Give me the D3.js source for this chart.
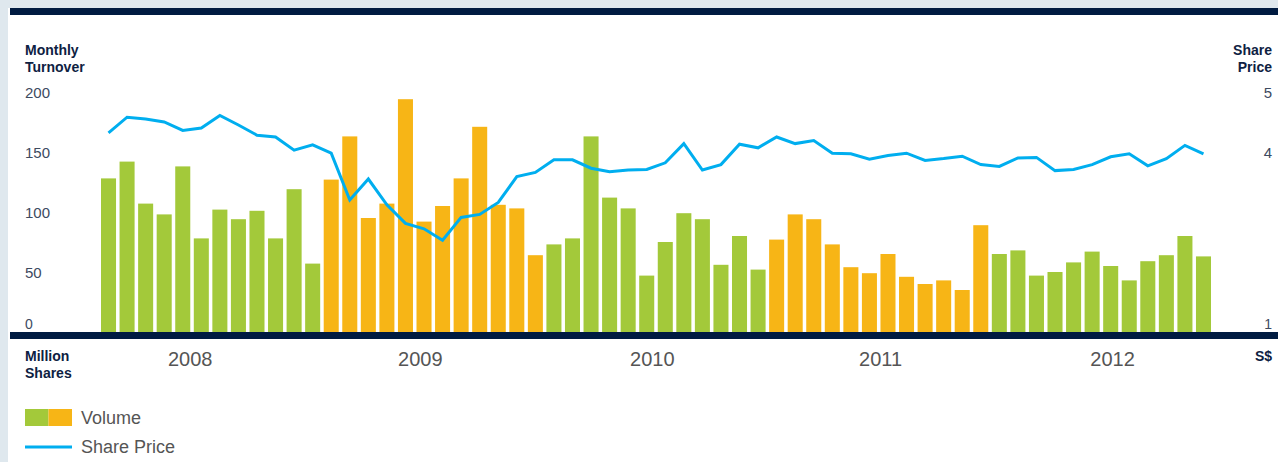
<!DOCTYPE html>
<html>
<head>
<meta charset="utf-8">
<script src="https://cdn.jsdelivr.net/npm/d3@7"></script>
<style>
  body { margin: 0; background: #dfe8ee; }
  svg { display: block; font-family: "Liberation Sans", Arial, sans-serif; }
</style>
</head>
<body>
<svg id="chart" width="1278" height="462"></svg>
<script>
// Monthly turnover (million shares), 60 months, fiscal years alternate colour every 12 bars
const volume = [
    128, 142, 107, 98, 138, 78, 102, 94, 101, 78, 119, 57,
    127, 163, 95, 107, 194, 92, 105, 128, 171, 106, 103, 64,
    73, 78, 163, 112, 103, 47, 75, 99, 94, 56, 80, 52,
    77, 98, 94, 73, 54, 49, 65, 46, 40, 43, 35, 89,
    65, 68, 47, 50, 58, 67, 55, 43, 59, 64, 80, 63
];

// Share price (S$) at month end
const price = [
    4.32, 4.58, 4.55, 4.50, 4.36, 4.40, 4.61, 4.45, 4.28, 4.25, 4.03, 4.12,
    3.98, 3.20, 3.55, 3.12, 2.81, 2.72, 2.53, 2.91, 2.96, 3.16, 3.59, 3.66,
    3.87, 3.87, 3.73, 3.67, 3.70, 3.71, 3.82, 4.14, 3.70, 3.79, 4.13, 4.07,
    4.25, 4.14, 4.19, 3.98, 3.97, 3.88, 3.94, 3.98, 3.86, 3.89, 3.93, 3.79,
    3.76, 3.90, 3.91, 3.69, 3.71, 3.79, 3.92, 3.97, 3.77, 3.89, 4.11, 3.97
];

const months = d3.range(volume.length);

// Year labels and where they sit along the month axis (month index)
const yearLabels = ["2008", "2009", "2010", "2011", "2012"];
const yearAt = [4.4, 16.8, 29.3, 41.6, 54.1];

const volumeTicks = [0, 50, 100, 150, 200];
const priceTicks = [1, 4, 5];

const colors = ["#a3c93a", "#f7b516"];
const lineColor = "#00aeef";
const navy = "#001b41";

const svg = d3.select("#chart");

// Panel
svg.append("rect").attr("width", 1278).attr("height", 462).attr("fill", "#dfe8ee");
svg.append("rect").attr("x", 8).attr("y", 8).attr("width", 1270).attr("height", 454).attr("fill", "#fff");
svg.append("rect").attr("x", 10).attr("y", 8).attr("width", 1268).attr("height", 7).attr("fill", navy);

// Scales
const x = d3.scaleBand()
    .domain(months)
    .range([101, 1211])
    .paddingInner(0.19)
    .paddingOuter(0);

const xIdx = d3.scaleLinear()
    .domain([0, months.length - 1])
    .range([x(0) + x.bandwidth() / 2, x(months.length - 1) + x.bandwidth() / 2]);

const yVol = d3.scaleLinear().domain([0, 200]).range([332, 92]);
const yPrice = d3.scaleLinear().domain([1, 5]).range([332, 92]);

// Bars
svg.append("g")
    .selectAll("rect")
    .data(volume)
    .enter()
    .append("rect")
    .attr("x", (d, i) => x(i))
    .attr("y", d => yVol(d))
    .attr("width", x.bandwidth())
    .attr("height", d => yVol(0) - yVol(d))
    .attr("fill", (d, i) => colors[Math.floor(i / 12) % 2]);

// Share price line
const line = d3.line()
    .x((d, i) => xIdx(i))
    .y(d => yPrice(d));

svg.append("path")
    .datum(price)
    .attr("d", line)
    .attr("fill", "none")
    .attr("stroke", lineColor)
    .attr("stroke-width", 3)
    .attr("stroke-linejoin", "miter");

// Baseline bar
svg.append("rect").attr("x", 10).attr("y", 332).attr("width", 1268).attr("height", 7).attr("fill", navy);

// Left axis
const leftAxis = svg.append("g")
    .attr("transform", "translate(25,0)")
    .call(d3.axisLeft(yVol).tickValues(volumeTicks).tickFormat(d3.format("d")).tickSize(0).tickPadding(0));
leftAxis.select(".domain").remove();
leftAxis.selectAll("text")
    .attr("text-anchor", "start")
    .attr("x", 0)
    .attr("dy", d => d === 0 ? "-0.25em" : "0.35em")
    .attr("font-size", d => d === 0 ? 14 : 15)
    .attr("font-family", "Liberation Sans, Arial, sans-serif")
    .attr("fill", "#3d4a5f");

// Right axis
const rightAxis = svg.append("g")
    .attr("transform", "translate(1272,0)")
    .call(d3.axisRight(yPrice).tickValues(priceTicks).tickFormat(d3.format("d")).tickSize(0).tickPadding(0));
rightAxis.select(".domain").remove();
rightAxis.selectAll("text")
    .attr("text-anchor", "end")
    .attr("x", 0)
    .attr("dy", d => d === 1 ? "-0.25em" : "0.35em")
    .attr("font-size", d => d === 1 ? 14 : 15)
    .attr("font-family", "Liberation Sans, Arial, sans-serif")
    .attr("fill", "#3d4a5f");

// Axis titles
function title(lines, xPos, y0, anchor) {
    const t = svg.append("text")
        .attr("x", xPos)
        .attr("y", y0)
        .attr("text-anchor", anchor)
        .attr("font-size", 14)
        .attr("font-weight", "bold")
        .attr("fill", "#0e2142");
    lines.forEach((l, i) => {
        t.append("tspan").attr("x", xPos).attr("dy", i === 0 ? 0 : 17).text(l);
    });
}
title(["Monthly", "Turnover"], 25, 55, "start");
title(["Share", "Price"], 1272, 55, "end");
title(["Million", "Shares"], 25, 361, "start");
title(["S$"], 1272, 361, "end");

// Year labels
svg.append("g")
    .selectAll("text")
    .data(yearLabels)
    .enter()
    .append("text")
    .attr("x", (d, i) => xIdx(yearAt[i]))
    .attr("y", 366)
    .attr("text-anchor", "middle")
    .attr("font-size", 20)
    .attr("fill", "#555")
    .text(d => d);

// Legend
const legend = svg.append("g");
legend.append("rect").attr("x", 25).attr("y", 409).attr("width", 23.5).attr("height", 17).attr("fill", colors[0]);
legend.append("rect").attr("x", 48.5).attr("y", 409).attr("width", 23.5).attr("height", 17).attr("fill", colors[1]);
legend.append("text")
    .attr("x", 81).attr("y", 424)
    .attr("font-size", 18).attr("fill", "#555")
    .text("Volume");
legend.append("line")
    .attr("x1", 25).attr("x2", 72)
    .attr("y1", 447).attr("y2", 447)
    .attr("stroke", lineColor).attr("stroke-width", 3);
legend.append("text")
    .attr("x", 81).attr("y", 453)
    .attr("font-size", 18).attr("fill", "#555")
    .text("Share Price");
</script>
</body>
</html>
